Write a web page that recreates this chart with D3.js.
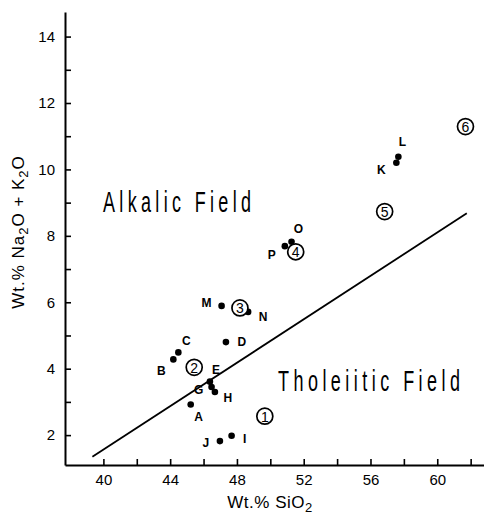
<!DOCTYPE html>
<html>
<head>
<meta charset="utf-8">
<script src="https://cdn.jsdelivr.net/npm/d3@7"></script>
<style>
  body { margin: 0; background: #fff; }
  svg { display: block; }
  text { font-family: "Liberation Sans", Arial, sans-serif; fill: #000; }
</style>
</head>
<body>
<div id="wrapper"></div>
<script>
// samples (letters) : SiO2 vs Na2O+K2O
const sampleNames = ["A", "B", "C", "D", "E", "G", "H", "I", "J", "K", "L", "M", "N", "O", "P"]
const sampleSiO2 = [45.23, 44.19, 44.49, 47.34, 46.38, 46.48, 46.68, 47.68, 46.98, 57.55, 57.67, 47.08, 48.67, 51.27, 50.87]
const sampleAlkali = [2.92, 4.28, 4.49, 4.80, 3.61, 3.45, 3.30, 1.98, 1.82, 10.20, 10.38, 5.89, 5.71, 7.82, 7.69]

// circled numbers
const circleNames = ["1", "2", "3", "4", "5", "6"]
const circleSiO2 = [49.67, 45.44, 48.18, 51.52, 56.85, 61.69]
const circleAlkali = [2.57, 4.04, 5.83, 7.52, 8.73, 11.29]

// alkalic / tholeiitic dividing line
const lineSiO2 = [39.34, 61.77]
const lineAlkali = [1.35, 8.68]

const xTicks = d3.range(40, 63, 2)
const yTicks = d3.range(2, 15, 1)

// where each letter sits relative to its dot
const labelOffsets = {
    A: [8, 12], B: [-12, 12], C: [8, -11], D: [16, 0], E: [6, -12], G: [-13, 3],
    H: [13, 6], I: [13, 3], J: [-14, 2], K: [-15, 7], L: [4, -15], M: [-15, -3],
    N: [15, 5], O: [7, -13], P: [-13, 9]
}

let dimensions = {
    width: 484,
    height: 518,
    margin: { top: 12, right: 0, bottom: 53, left: 65 },
}
dimensions.boundedWidth = dimensions.width - dimensions.margin.left - dimensions.margin.right
dimensions.boundedHeight = dimensions.height - dimensions.margin.top - dimensions.margin.bottom

const wrapper = d3.select("#wrapper").append("svg")
    .attr("width", dimensions.width)
    .attr("height", dimensions.height)
const bounds = wrapper.append("g")
    .attr("transform", `translate(${dimensions.margin.left},${dimensions.margin.top})`)

const xScaler = d3.scaleLinear().domain([37.7, 62.8]).range([0, dimensions.boundedWidth])
const yScaler = d3.scaleLinear().domain([1.1, 14.74]).range([dimensions.boundedHeight, 0])

// axes, ticks pointing inward
const xAxis = bounds.append("g")
    .attr("transform", `translate(0,${dimensions.boundedHeight})`)
    .call(d3.axisBottom(xScaler).tickValues(xTicks).tickSizeInner(-6).tickSizeOuter(0).tickPadding(9)
        .tickFormat(d => d % 4 === 0 ? d : ""))
const yAxis = bounds.append("g")
    .call(d3.axisLeft(yScaler).tickValues(yTicks).tickSizeInner(-6).tickSizeOuter(0).tickPadding(10)
        .tickFormat(d => d % 2 === 0 ? d : ""))
;[xAxis, yAxis].forEach(a => {
    a.select(".domain").attr("stroke", "#000").attr("stroke-width", 2)
    a.selectAll(".tick line").attr("stroke", "#000").attr("stroke-width", 1.6)
    a.selectAll(".tick text").style("font-size", "15px").style("font-family", "Liberation Sans, Arial, sans-serif")
})

// dividing line
bounds.append("line")
    .attr("x1", xScaler(lineSiO2[0])).attr("y1", yScaler(lineAlkali[0]))
    .attr("x2", xScaler(lineSiO2[1])).attr("y2", yScaler(lineAlkali[1]))
    .attr("stroke", "#000").attr("stroke-width", 1.8)

// sample dots + letters
const samples = sampleNames.map((n, i) => ({ name: n, x: sampleSiO2[i], y: sampleAlkali[i] }))
bounds.append("g").selectAll("circle").data(samples).enter().append("circle")
    .attr("cx", d => xScaler(d.x))
    .attr("cy", d => yScaler(d.y))
    .attr("r", 3.3)
    .attr("fill", "#000")
bounds.append("g").selectAll("text").data(samples).enter().append("text")
    .attr("x", d => xScaler(d.x) + labelOffsets[d.name][0])
    .attr("y", d => yScaler(d.y) + labelOffsets[d.name][1])
    .attr("text-anchor", "middle")
    .attr("dominant-baseline", "central")
    .style("font-size", "12px")
    .style("font-weight", "bold")
    .text(d => d.name)

// circled numbers
const circled = circleNames.map((n, i) => ({ name: n, x: circleSiO2[i], y: circleAlkali[i] }))
const circGroups = bounds.append("g").selectAll("g").data(circled).enter().append("g")
    .attr("transform", d => `translate(${xScaler(d.x)},${yScaler(d.y)})`)
circGroups.append("circle")
    .attr("r", 8)
    .attr("fill", "#fff")
    .attr("stroke", "#000")
    .attr("stroke-width", 1.7)
circGroups.append("text")
    .attr("text-anchor", "middle")
    .attr("dominant-baseline", "central")
    .attr("y", 0.5)
    .style("font-size", "14px")
    .text(d => d.name)

// field names, tall and narrow
function fieldLabel(txt, x, y, w) {
    const sx = 0.6
    wrapper.append("g")
        .attr("transform", `translate(${x},${y}) scale(${sx},1)`)
        .append("text")
        .attr("textLength", w / sx)
        .attr("lengthAdjust", "spacing")
        .style("font-size", "30px")
        .text(txt)
}
fieldLabel("Alkalic Field", 103, 212, 148)
fieldLabel("Tholeiitic Field", 278, 391, 182)

// axis titles
const xTitle = wrapper.append("text")
    .attr("x", 270).attr("y", 508)
    .attr("text-anchor", "middle")
    .style("font-size", "17px")
    .style("letter-spacing", "0.5px")
xTitle.append("tspan").text("Wt.% SiO")
xTitle.append("tspan").attr("dy", 4).style("font-size", "13px").text("2")

const yTitle = wrapper.append("text")
    .attr("transform", "translate(24,232) rotate(-90)")
    .attr("text-anchor", "middle")
    .style("font-size", "17px")
    .style("letter-spacing", "1px")
yTitle.append("tspan").text("Wt.% Na")
yTitle.append("tspan").attr("dy", 4).style("font-size", "13px").text("2")
yTitle.append("tspan").attr("dy", -4).text("O + K")
yTitle.append("tspan").attr("dy", 4).style("font-size", "13px").text("2")
yTitle.append("tspan").attr("dy", -4).text("O")
</script>
</body>
</html>
